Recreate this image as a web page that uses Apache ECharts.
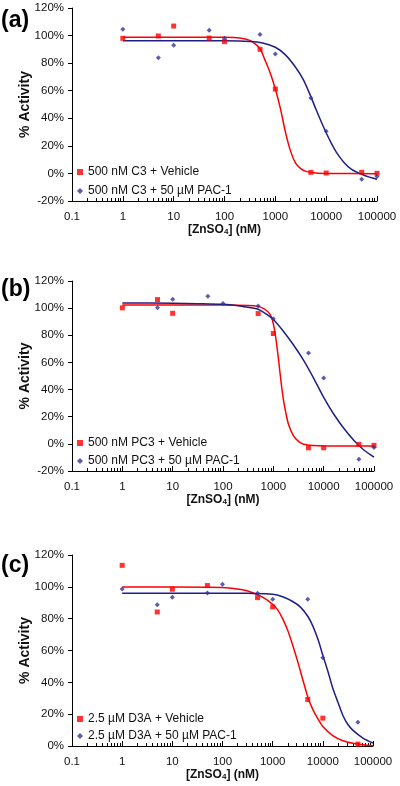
<!DOCTYPE html>
<html><head><meta charset="utf-8">
<script src="https://cdn.jsdelivr.net/npm/echarts@6/dist/echarts.min.js"></script>
<style>html,body{margin:0;padding:0;background:#fff}#c{width:400px;height:786px}</style>
</head><body><div id="c"></div>
<script>
// ---- data ----
const conc = [1, 5, 10, 50, 100, 500, 1000, 5000, 10000, 50000, 100000];
const xTicks = [0.1, 1, 10, 100, 1000, 10000, 100000];
const xTickLabels = ['0.1', '1', '10', '100', '1000', '10000', '100000'];
const panelLabels = ['(a)', '(b)', '(c)'];
const yRangesMin = [-20, -20, 0];
const yRangesMax = [120, 120, 120];

// panel (a)
const namesA = ['500 nM C3 + Vehicle', '500 nM C3 + 50 µM PAC-1'];
const redA  = [98.0, 99.7, 106.9, 98.2, 95.6, 90.0, 61.2, 0.8, 0.3, 0.8, 0.1];
const blueA = [104.5, 84.0, 93.0, 103.8, 98.0, 100.7, 86.6, 54.7, 30.6, -4.2, -2.3];
const fitRedAX  = [1, 10, 100, 200, 316, 400, 500, 630, 800, 1000, 1260, 1580, 2000, 2500, 3160, 4000, 6300, 10000, 100000];
const fitRedAY  = [98.8, 98.8, 98.7, 98.2, 96.5, 94.0, 90.5, 82.0, 72.5, 61.2, 47.0, 30.0, 16.0, 7.5, 3.5, 1.5, 0.3, 0.0, -0.2];
const fitBlueAX = [1, 10, 100, 316, 560, 1000, 1580, 2500, 3550, 5000, 6300, 8000, 10000, 12600, 15800, 22400, 31600, 50000, 71000, 100000];
const fitBlueAY = [96.3, 96.3, 96.2, 95.7, 94.6, 91.5, 86.0, 77.0, 68.0, 55.7, 46.5, 37.5, 29.5, 22.0, 15.5, 8.0, 3.0, -0.6, -2.7, -4.2];

// panel (b)
const namesB = ['500 nM PC3 + Vehicle', '500 nM PC3 + 50 µM PAC-1'];
const redB  = [100.2, 106.3, 96.2, null, null, 96.0, 81.3, -2.9, -2.9, -0.4, -1.1];
const blueB = [null, 100.2, 106.5, 108.7, 103.4, 101.6, 92.1, 67.0, 48.6, -11.4, -2.6];
const fitRedBX  = [1, 100, 316, 500, 630, 800, 900, 1000, 1120, 1260, 1410, 1580, 1780, 2000, 2500, 3160, 4000, 6300, 10000, 100000];
const fitRedBY  = [102.4, 102.3, 102.0, 101.3, 99.8, 97.0, 94.0, 88.5, 78.0, 63.0, 47.0, 33.0, 22.5, 14.5, 6.0, 1.8, -0.3, -1.3, -1.6, -1.6];
const fitBlueBX = [1, 10, 31.6, 100, 200, 316, 500, 710, 1000, 1580, 2500, 4000, 6300, 10000, 15800, 25100, 40000, 63000, 100000];
const fitBlueBY = [103.8, 103.6, 103.3, 102.8, 101.8, 100.6, 99.2, 95.8, 91.6, 83.0, 73.0, 61.5, 48.5, 34.3, 22.0, 11.5, 2.5, -4.5, -9.7];

// panel (c)
const namesC = ['2.5 µM D3A + Vehicle', '2.5 µM D3A + 50 µM PAC-1'];
const redC  = [113.5, 84.2, 98.5, 100.8, null, 93.2, 87.4, 29.2, 17.5, 1.2, null];
const blueC = [98.7, 88.8, 93.5, 96.2, 101.6, 96.0, 92.2, 92.2, 55.4, 15.0, null];
const fitRedCX  = [1, 10, 100, 250, 400, 630, 1000, 1260, 1580, 2000, 2500, 3160, 4000, 5000, 6300, 8000, 10000, 15800, 25100, 40000, 63000, 100000];
const fitRedCY  = [99.9, 99.9, 99.6, 98.2, 96.3, 93.5, 89.0, 85.5, 80.0, 72.5, 63.5, 53.0, 41.5, 31.0, 23.0, 17.0, 12.3, 6.5, 3.3, 1.7, 0.8, 0.2];
const fitBlueCX = [1, 100, 316, 1000, 1580, 2500, 3550, 5000, 6300, 8000, 10000, 12600, 15800, 20000, 25100, 31600, 40000, 63000, 100000];
const fitBlueCY = [96.0, 96.0, 95.9, 95.4, 93.8, 90.8, 87.4, 81.5, 75.5, 67.0, 57.0, 47.0, 36.3, 27.5, 19.2, 13.5, 9.8, 5.0, 1.9];

// ---- styling / layout ----
const FONT = '"Liberation Sans", Arial, Helvetica, sans-serif';
const RED = '#ff0000', BLUE = '#1f1f87', BLUE_PT = '#33339a';
const gridRects = [
  {left: 72, top: 8, width: 305, height: 193},
  {left: 72, top: 281, width: 302, height: 190},
  {left: 72, top: 555, width: 301, height: 191}
];
const legendTops = [165, 436, 712];
const legendGaps = [5, 4, 3];
const labelY = [22, 291, 567];

const minorTicks = [];
for (let d = -1; d <= 4; d++) for (let k = 2; k <= 9; k++) minorTicks.push(+(k * Math.pow(10, d)).toPrecision(6));

function labelFor(v) {
  for (let i = 0; i < xTicks.length; i++) if (Math.abs(Math.log10(v) - Math.log10(xTicks[i])) < 1e-6) return xTickLabels[i];
  return '';
}
function pts(xs, ys) { const o = []; for (let i = 0; i < xs.length; i++) if (ys[i] !== null) o.push([xs[i], ys[i]]); return o; }

const panels = [
  {names: namesA, red: redA, blue: blueA, fr: [fitRedAX, fitRedAY], fb: [fitBlueAX, fitBlueAY]},
  {names: namesB, red: redB, blue: blueB, fr: [fitRedBX, fitRedBY], fb: [fitBlueBX, fitBlueBY]},
  {names: namesC, red: redC, blue: blueC, fr: [fitRedCX, fitRedCY], fb: [fitBlueCX, fitBlueCY]}
];

const grid = [], xAxis = [], yAxis = [], series = [], legend = [], graphic = [];
// grids 0..2: data; grids 3..5: overlay for minor ticks
gridRects.forEach(r => grid.push(Object.assign({}, r)));
gridRects.forEach(r => grid.push(Object.assign({}, r)));

panels.forEach((p, i) => {
  xAxis.push({
    type: 'log', logBase: 10, gridIndex: i, position: 'bottom', min: 0.1, max: 100000,
    axisLine: {show: true, onZero: false, lineStyle: {color: '#000', width: 1}},
    axisTick: {show: true, inside: true, length: 5, customValues: xTicks, lineStyle: {color: '#000'}},
    axisLabel: {customValues: xTicks, formatter: v => labelFor(v), margin: 10, fontSize: 11.5, color: '#111', fontFamily: FONT},
    splitLine: {show: false},
    name: '[ZnSO{sub|4}] (nM)', nameLocation: 'middle', nameGap: 23, nameMoveOverlap: false,
    nameTextStyle: {fontWeight: 'bold', fontSize: 12, color: '#111', fontFamily: FONT,
      rich: {sub: {fontSize: 8, fontWeight: 'bold', color: '#111', fontFamily: FONT, verticalAlign: 'bottom', lineHeight: 8}}}
  });
  yAxis.push({
    type: 'value', gridIndex: i, min: yRangesMin[i], max: yRangesMax[i], interval: 20,
    axisLine: {show: true, onZero: false, lineStyle: {color: '#000', width: 1}},
    axisTick: {show: true, length: 4, lineStyle: {color: '#000'}},
    axisLabel: {formatter: '{value}%', margin: 8, fontSize: 11.5, color: '#111', fontFamily: FONT},
    splitLine: {show: false},
    name: '% Activity', nameLocation: 'middle', nameGap: 40, nameMoveOverlap: false,
    nameTextStyle: {fontWeight: 'bold', fontSize: 14, color: '#111', fontFamily: FONT}
  });
  series.push({type: 'line', name: 'fitR' + i, xAxisIndex: i, yAxisIndex: i, data: pts(p.fr[0], p.fr[1]),
    showSymbol: false, smooth: 0.3, lineStyle: {color: RED, width: 1.5}, silent: true, z: 2});
  series.push({type: 'line', name: 'fitB' + i, xAxisIndex: i, yAxisIndex: i, data: pts(p.fb[0], p.fb[1]),
    showSymbol: false, smooth: 0.3, lineStyle: {color: BLUE, width: 1.5}, silent: true, z: 2});
  series.push({type: 'scatter', name: p.names[0], xAxisIndex: i, yAxisIndex: i, data: pts(conc, p.red),
    symbol: 'rect', symbolSize: 5, itemStyle: {color: RED}, z: 3});
  series.push({type: 'scatter', name: p.names[1], xAxisIndex: i, yAxisIndex: i, data: pts(conc, p.blue),
    symbol: 'diamond', symbolSize: 5, itemStyle: {color: BLUE_PT}, z: 4});
  legend.push({
    left: 77, top: legendTops[i], orient: 'vertical', padding: 0, itemGap: legendGaps[i],
    itemWidth: 6, itemHeight: 6, selectedMode: false,
    data: [{name: p.names[0], icon: 'rect', itemStyle: {color: RED}}, {name: p.names[1], icon: 'diamond', itemStyle: {color: BLUE_PT}}],
    textStyle: {fontSize: 12, color: '#111', fontFamily: FONT, lineHeight: 14}
  });
  graphic.push({type: 'text', left: 1, top: labelY[i] - 13,
    style: {text: panelLabels[i], font: 'bold 23px ' + FONT, fill: '#000'}});
});
// overlay axes carrying only minor ticks
panels.forEach((p, i) => {
  xAxis.push({
    type: 'log', logBase: 10, gridIndex: 3 + i, position: 'bottom', min: 0.1, max: 100000,
    axisLine: {show: false, onZero: false},
    axisTick: {show: true, inside: true, length: 3, customValues: minorTicks, lineStyle: {color: '#000'}},
    axisLabel: {show: false}, splitLine: {show: false}
  });
  yAxis.push({type: 'value', gridIndex: 3 + i, min: yRangesMin[i], max: yRangesMax[i], show: false,
    axisLine: {onZero: false}});
});

const chart = echarts.init(document.getElementById('c'), null, {renderer: 'canvas'});
chart.setOption({
  animation: false, backgroundColor: '#fff',
  grid, xAxis, yAxis, series, legend, graphic
});
</script></body></html>
